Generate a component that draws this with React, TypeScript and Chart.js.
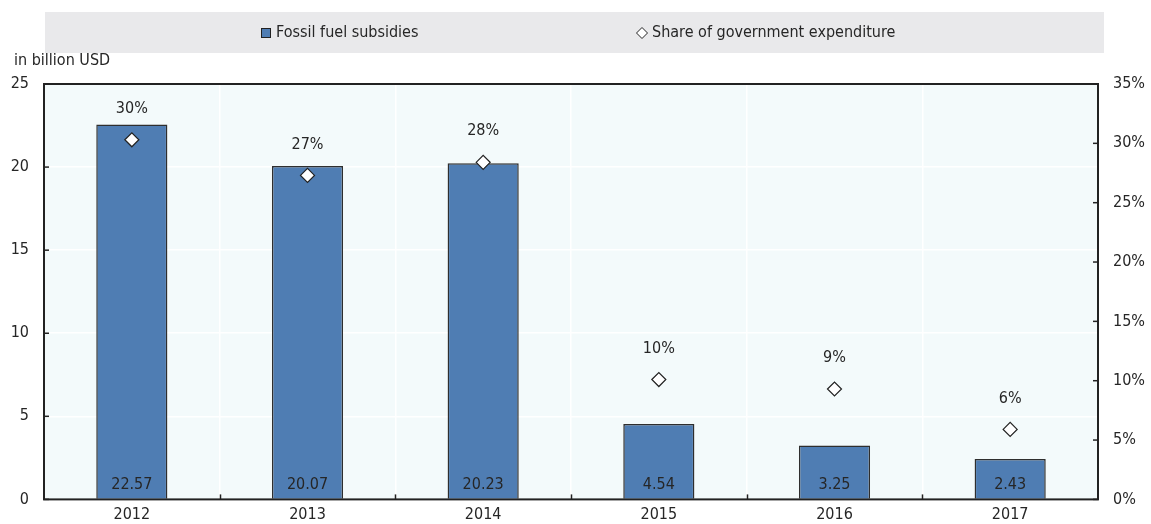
import React, { useEffect, useRef } from "react";
import { Chart, registerables } from "chart.js";

Chart.register(...registerables);

const years = ["2012", "2013", "2014", "2015", "2016", "2017"];
const subsidies = [22.57, 20.07, 20.23, 4.54, 3.25, 2.43];
const shareValues = [30.3, 27.3, 28.4, 10.1, 9.3, 5.9];
const shareLabels = ["30%", "27%", "28%", "10%", "9%", "6%"];
const subsidyLabels = ["22.57", "20.07", "20.23", "4.54", "3.25", "2.43"];

const FONT = "'Liberation Sans Narrow', 'DejaVu Sans Condensed', 'Arial Narrow', sans-serif";
const TXT = "#262626";
const BAR = "#4f7db3";

const decorPlugin = {
  id: "decor",
  beforeDraw(chart: any) {
    const { ctx, chartArea: a } = chart;
    ctx.save();
    ctx.fillStyle = "#e9e9eb";
    ctx.fillRect(45, 12, 1059, 41);
    ctx.fillStyle = "#f3fafb";
    ctx.fillRect(a.left, a.top, a.right - a.left, a.bottom - a.top);
    ctx.restore();
  },
  afterDatasetsDraw(chart: any) {
    const { ctx, chartArea: a } = chart;
    ctx.save();
    ctx.strokeStyle = "#222222";
    ctx.lineWidth = 2;
    ctx.strokeRect(a.left, a.top, a.right - a.left, a.bottom - a.top);
    ctx.lineWidth = 1.5;
    const y = chart.scales.y;
    y.ticks.forEach((t: any) => {
      const py = y.getPixelForValue(t.value);
      ctx.beginPath();
      ctx.moveTo(a.left, py);
      ctx.lineTo(a.left + 5, py);
      ctx.stroke();
    });
    const y1 = chart.scales.y1;
    y1.ticks.forEach((t: any) => {
      const py = y1.getPixelForValue(t.value);
      ctx.beginPath();
      ctx.moveTo(a.right, py);
      ctx.lineTo(a.right - 5, py);
      ctx.stroke();
    });
    const n = years.length;
    const w = (a.right - a.left) / n;
    for (let i = 1; i < n; i++) {
      const px = Math.round(a.left + w * i) + 0.5;
      ctx.beginPath();
      ctx.moveTo(px, a.bottom);
      ctx.lineTo(px, a.bottom - 5);
      ctx.stroke();
    }
    ctx.fillStyle = TXT;
    ctx.font = `16px ${FONT}`;
    ctx.textAlign = "center";
    ctx.textBaseline = "middle";
    const barMeta = chart.getDatasetMeta(0);
    barMeta.data.forEach((el: any, i: number) => {
      ctx.fillText(subsidyLabels[i], el.x, a.bottom - 15);
    });
    const ptMeta = chart.getDatasetMeta(1);
    ptMeta.data.forEach((el: any, i: number) => {
      ctx.fillText(shareLabels[i], el.x, el.y - 31);
    });
    ctx.textAlign = "left";
    ctx.fillText("in billion USD", 14, 61);
    ctx.fillStyle = BAR;
    ctx.fillRect(261.5, 28.5, 9, 9);
    ctx.strokeStyle = "#222222";
    ctx.lineWidth = 1;
    ctx.strokeRect(261.5, 28.5, 9, 9);
    ctx.fillStyle = TXT;
    ctx.fillText("Fossil fuel subsidies", 276, 33);
    ctx.beginPath();
    ctx.moveTo(642, 27.5);
    ctx.lineTo(647.5, 33);
    ctx.lineTo(642, 38.5);
    ctx.lineTo(636.5, 33);
    ctx.closePath();
    ctx.fillStyle = "#ffffff";
    ctx.fill();
    ctx.strokeStyle = "#222222";
    ctx.stroke();
    ctx.fillStyle = TXT;
    ctx.fillText("Share of government expenditure", 652, 33);
    ctx.restore();
  },
};

export default function App() {
  const ref = useRef<HTMLCanvasElement>(null);
  useEffect(() => {
    document.body.style.margin = "0";
    const chart = new Chart(ref.current!, {
      data: {
        labels: years,
        datasets: [
          {
            type: "bar",
            label: "Fossil fuel subsidies",
            data: subsidies,
            backgroundColor: BAR,
            borderColor: "#2e2e2e",
            borderWidth: 1.5,
            barPercentage: 0.81,
            categoryPercentage: 0.5,
            yAxisID: "y",
            order: 2,
          },
          {
            type: "line",
            label: "Share of government expenditure",
            data: shareValues,
            showLine: false,
            pointStyle: "rectRot",
            pointRadius: 7,
            pointBackgroundColor: "#ffffff",
            pointBorderColor: "#222222",
            pointBorderWidth: 1.2,
            yAxisID: "y1",
            order: 1,
          },
        ],
      } as any,
      options: {
        animation: false,
        responsive: false,
        layout: { padding: { top: 84, left: 0, right: 0, bottom: 0 } },
        plugins: { legend: { display: false }, tooltip: { enabled: false } },
        scales: {
          x: {
            offset: true,
            grid: { color: "#ffffff", lineWidth: 1.5, drawTicks: false, offset: true },
            border: { display: false },
            ticks: { color: TXT, font: { family: FONT, size: 16 }, padding: 6 },
            afterFit(s: any) { s.height = 24; },
          },
          y: {
            position: "left",
            min: 0,
            max: 25,
            ticks: { stepSize: 5, color: TXT, font: { family: FONT, size: 16 }, padding: 15 },
            grid: { color: "#ffffff", lineWidth: 1.5, drawTicks: false },
            border: { display: false },
            afterFit(s: any) { s.width = 44; },
          },
          y1: {
            position: "right",
            min: 0,
            max: 35,
            ticks: {
              stepSize: 5,
              color: TXT,
              font: { family: FONT, size: 16 },
              padding: 15,
              callback: (v: any) => `${v}%`,
            },
            grid: { display: false, drawTicks: false },
            border: { display: false },
            afterFit(s: any) { s.width = 53; },
          },
        },
      } as any,
      plugins: [decorPlugin],
    });
    return () => chart.destroy();
  }, []);
  return <canvas ref={ref} width={1151} height={524} style={{ display: "block" }} />;
}
